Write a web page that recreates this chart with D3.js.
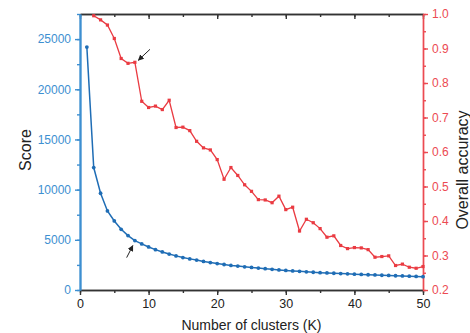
<!DOCTYPE html>
<head>
  <meta charset="utf-8">
  <script src="https://cdn.jsdelivr.net/npm/d3@7"></script>
  <style>
    body { margin:0; background:#fff; }
    svg { display:block; font-family: "Liberation Sans", Arial, sans-serif; }
  </style>
</head>

<body>
  <script>
    // chart values
    var kScore = d3.range(1, 51);
    var score = [24200, 12200, 9640, 7880, 6880, 6050, 5420, 4920, 4590, 4290,
                 4020, 3790, 3580, 3400, 3230, 3100, 2980, 2850, 2730, 2630,
                 2540, 2450, 2380, 2310, 2250, 2180, 2120, 2060, 2000, 1950,
                 1900, 1860, 1810, 1770, 1730, 1700, 1670, 1640, 1610, 1580,
                 1550, 1520, 1500, 1470, 1450, 1420, 1400, 1380, 1350, 1330];
    var kAcc = d3.range(2, 51);
    var accuracy = [0.995, 0.983, 0.968, 0.929, 0.871, 0.857, 0.860, 0.747, 0.729,
                    0.733, 0.723, 0.750, 0.671, 0.672, 0.662, 0.631, 0.612, 0.606, 0.578,
                    0.521, 0.555, 0.532, 0.505, 0.486, 0.462, 0.461, 0.453, 0.472, 0.433,
                    0.440, 0.371, 0.405, 0.395, 0.378, 0.353, 0.357, 0.329, 0.320, 0.323,
                    0.322, 0.317, 0.295, 0.297, 0.299, 0.271, 0.275, 0.266, 0.263, 0.268];
    var xTicks = [0, 10, 20, 30, 40, 50];
    var scoreTicks = [0, 5000, 10000, 15000, 20000, 25000];
    var accTicks = [0.2, 0.3, 0.4, 0.5, 0.6, 0.7, 0.8, 0.9, 1.0];

    var width = 470, height = 333;
    var m = {top: 14, right: 47, bottom: 43, left: 80};
    var blue = "#1f6db5", blueAxis = "#3d8fd1", red = "#ea3b42", redAxis = "#ec4a52";

    var svg = d3.select("body").append("svg")
      .attr("width", width).attr("height", height);

    var x = d3.scaleLinear().domain([0, 50]).range([m.left, width - m.right]);
    var yL = d3.scaleLinear().domain([0, 27500]).range([height - m.bottom, m.top]);
    var yR = d3.scaleLinear().domain([0.2, 1.0]).range([height - m.bottom, m.top]);

    //minor ticks first, then the major ones
    function minor(axis) { return axis.tickSize(3).tickFormat("").tickSizeOuter(0); }
    function axisGroup(tx, ty, axis, colour) {
      var g = svg.append("g").attr("transform", "translate(" + tx + "," + ty + ")").call(axis);
      g.selectAll("path, line").attr("stroke", colour).attr("stroke-width", 1.4);
      return g;
    }

    axisGroup(0, height - m.bottom, minor(d3.axisBottom(x).tickValues(d3.range(0, 51, 5))), "#333");
    var gx = axisGroup(0, height - m.bottom,
      d3.axisBottom(x).tickValues(xTicks).tickSize(5).tickPadding(4).tickSizeOuter(0), "#333");
    gx.selectAll("text").attr("fill", "#222").style("font-size", "12.5px");

    axisGroup(0, m.top, minor(d3.axisBottom(x).tickValues(d3.range(0, 51, 5))), "#333");
    axisGroup(0, m.top, d3.axisBottom(x).tickValues(xTicks).tickSize(5).tickFormat("").tickSizeOuter(0), "#333");

    axisGroup(m.left, 0, minor(d3.axisLeft(yL).tickValues(d3.range(0, 27501, 2500))), blueAxis);
    var gl = axisGroup(m.left, 0,
      d3.axisLeft(yL).tickValues(scoreTicks).tickFormat(d3.format("d"))
        .tickSize(5).tickPadding(4).tickSizeOuter(0), blueAxis);
    gl.selectAll("text").attr("fill", blueAxis).style("font-size", "12px");
    gl.select(".domain").attr("stroke-width", 2.2);

    axisGroup(width - m.right, 0, minor(d3.axisRight(yR).tickValues(d3.range(0.2, 1.001, 0.05))), redAxis);
    var gr = axisGroup(width - m.right, 0,
      d3.axisRight(yR).tickValues(accTicks).tickFormat(d3.format(".1f"))
        .tickSize(5).tickPadding(4).tickSizeOuter(0), redAxis);
    gr.selectAll("text").attr("fill", redAxis).style("font-size", "12px");

    var accData = kAcc.map(function(k, i) { return [k, accuracy[i]]; });
    var scoreData = kScore.map(function(k, i) { return [k, score[i]]; });

    svg.append("path").datum(accData)
      .attr("fill", "none").attr("stroke", red).attr("stroke-width", 1.3)
      .attr("d", d3.line().x(function(d) { return x(d[0]); }).y(function(d) { return yR(d[1]); }));
    svg.selectAll(".acc").data(accData).enter().append("rect")
      .attr("x", function(d) { return x(d[0]) - 1.6; })
      .attr("y", function(d) { return yR(d[1]) - 1.6; })
      .attr("width", 3.2).attr("height", 3.2).attr("fill", red);

    svg.append("path").datum(scoreData)
      .attr("fill", "none").attr("stroke", blue).attr("stroke-width", 1.5)
      .attr("d", d3.line().x(function(d) { return x(d[0]); }).y(function(d) { return yL(d[1]); }));
    svg.selectAll(".score").data(scoreData).enter().append("circle")
      .attr("cx", function(d) { return x(d[0]); })
      .attr("cy", function(d) { return yL(d[1]); })
      .attr("r", 1.9).attr("fill", blue);

    // little arrows pointing at K = 8
    svg.append("defs").append("marker").attr("id", "ah")
      .attr("viewBox", "0 0 10 10").attr("refX", 9).attr("refY", 5)
      .attr("markerWidth", 6).attr("markerHeight", 6).attr("orient", "auto")
      .append("path").attr("d", "M0,0L10,5L0,10z").attr("fill", "#222");
    svg.append("line")
      .attr("x1", x(10.2)).attr("y1", yR(0.86) - 13)
      .attr("x2", x(8.5)).attr("y2", yR(0.86) - 2)
      .attr("stroke", "#222").attr("stroke-width", 1).attr("marker-end", "url(#ah)");
    svg.append("line")
      .attr("x1", x(6.8)).attr("y1", yL(4920) + 17)
      .attr("x2", x(7.7)).attr("y2", yL(4920) + 5)
      .attr("stroke", "#222").attr("stroke-width", 1).attr("marker-end", "url(#ah)");

    svg.append("text").attr("x", x(25)).attr("y", height - 3)
      .attr("text-anchor", "middle").attr("fill", "#222").style("font-size", "14px")
      .text("Number of clusters (K)");
    svg.append("text").attr("transform", "translate(31," + 150 + ") rotate(-90)")
      .attr("text-anchor", "middle").attr("fill", "#222").style("font-size", "16px")
      .text("Score");
    svg.append("text").attr("transform", "translate(468," + 170 + ") rotate(-90)")
      .attr("text-anchor", "middle").attr("fill", "#222").style("font-size", "16px")
      .text("Overall accuracy");
  </script>
</body>
</html>
